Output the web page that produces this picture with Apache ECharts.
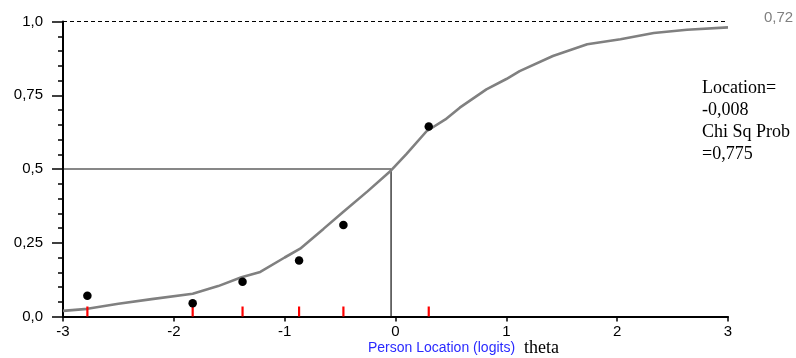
<!DOCTYPE html>
<html>
<head>
<meta charset="utf-8">
<script src="https://cdn.jsdelivr.net/npm/echarts@6/dist/echarts.min.js"></script>
<style>
html,body{margin:0;padding:0;background:#fff;}
#c{width:796px;height:358px;}
</style>
</head>
<body>
<div id="c"></div>
<script>
// Expected value curve (ICC)
const curveTheta = [-3, -2.78, -2.5, -2.2, -1.83, -1.6, -1.39, -1.22, -1.0, -0.86, -0.65, -0.47, -0.25, -0.04, 0.1, 0.28, 0.45, 0.58, 0.82, 1.0, 1.12, 1.42, 1.73, 2.03, 2.33, 2.63, 3.0];
const curveProb  = [0.019, 0.026, 0.043, 0.059, 0.077, 0.103, 0.133, 0.151, 0.2, 0.23, 0.297, 0.355, 0.425, 0.495, 0.551, 0.628, 0.668, 0.708, 0.77, 0.805, 0.832, 0.883, 0.923, 0.94, 0.961, 0.972, 0.98];
// Observed class means
const obsTheta = [-2.78, -1.83, -1.38, -0.87, -0.47, 0.30];
const obsProb  = [0.070, 0.045, 0.118, 0.190, 0.310, 0.644];
// Crossing of 0.5
const crossTheta = -0.04;
const crossProb = 0.5;
// Axis tick labels
const xTickLabels = ['-3', '-2', '-1', '0', '1', '2', '3'];
const yTickLabels = ['0,0', '0,25', '0,5', '0,75', '1,0'];
// Texts
const topRightText = '0,72';
const infoLines = ['Location=', '-0,008', 'Chi Sq Prob', '=0,775'];
const xAxisTitle = 'Person Location (logits)';
const xAxisUnit = 'theta';

const chart = echarts.init(document.getElementById('c'), null, {renderer: 'canvas'});
const sans = '"Liberation Sans", Arial, sans-serif';
const serif = '"Liberation Serif", "Times New Roman", serif';

const option = {
  animation: false,
  backgroundColor: '#fff',
  grid: {left: 63, right: 68, top: 21.5, bottom: 41.5, containLabel: false},
  xAxis: {
    type: 'value', min: -3, max: 3, interval: 1,
    axisLine: {show: true, onZero: false, lineStyle: {color: '#000', width: 2}},
    axisTick: {show: true, length: 5, lineStyle: {color: '#000', width: 1.5}},
    axisLabel: {
      margin: 8, color: '#000', fontFamily: sans, fontSize: 15,
      formatter: v => xTickLabels[Math.round(v) + 3]
    },
    splitLine: {show: false}
  },
  yAxis: {
    type: 'value', min: 0, max: 1, interval: 0.25,
    axisLine: {show: true, onZero: false, lineStyle: {color: '#000', width: 2}},
    axisTick: {show: true, length: 11, lineStyle: {color: '#000', width: 1.5}},
    minorTick: {show: true, splitNumber: 5, length: 5, lineStyle: {color: '#000', width: 1.5}},
    axisLabel: {
      margin: 20, color: '#000', fontFamily: sans, fontSize: 15,
      formatter: v => yTickLabels[Math.round(v * 4)]
    },
    splitLine: {show: false}
  },
  series: [
    {
      type: 'line', name: 'top', data: [[-3, 1], [3, 1]], symbol: 'none',
      lineStyle: {color: '#000', width: 1, type: [4, 3]}, silent: true, z: 1
    },
    {
      type: 'line', name: 'cross',
      data: [[-3, crossProb], [crossTheta, crossProb], [crossTheta, 0]],
      symbol: 'none', lineStyle: {color: '#111', width: 1.2}, silent: true, z: 1
    },
    {
      type: 'line', name: 'ICC',
      data: curveTheta.map((t, i) => [t, curveProb[i]]),
      symbol: 'none', smooth: false,
      lineStyle: {color: '#808080', width: 2.6}, z: 2
    },
    {
      type: 'scatter', name: 'classTicks',
      data: obsTheta.map(t => [t, 0]),
      symbol: 'rect', symbolSize: [2.2, 10], symbolOffset: [0, -5],
      itemStyle: {color: '#ff0000', opacity: 1}, clip: false, z: 3, silent: true
    },
    {
      type: 'scatter', name: 'observed',
      data: obsTheta.map((t, i) => [t, obsProb[i]]),
      symbol: 'circle', symbolSize: 8.5,
      itemStyle: {color: '#000', opacity: 1}, z: 4
    }
  ],
  graphic: [
    {
      type: 'text', left: 764, top: 10,
      style: {text: topRightText, fill: '#808080', font: '15px ' + sans}
    },
    {
      type: 'text', left: 702, top: 77,
      style: {text: infoLines.join('\n'), fill: '#000', font: '18px ' + serif, lineHeight: 22}
    },
    {
      type: 'text', left: 368, top: 341,
      style: {text: xAxisTitle, fill: '#2a2aff', font: '14px ' + sans}
    },
    {
      type: 'text', left: 524, top: 339,
      style: {text: xAxisUnit, fill: '#000', font: '18px ' + serif}
    }
  ]
};
chart.setOption(option);
</script>
</body>
</html>
